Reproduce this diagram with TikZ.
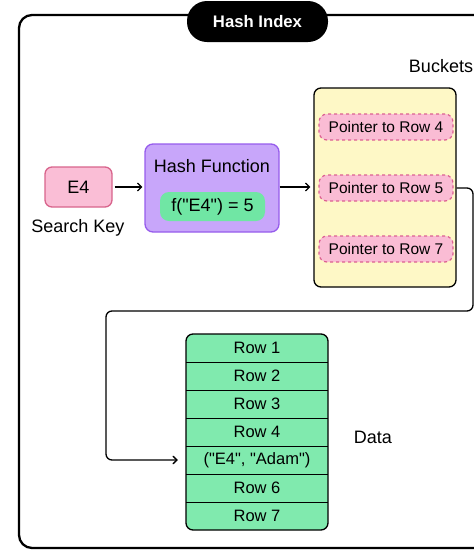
\documentclass[tikz,border=0pt]{standalone}
\usepackage{fontspec}
\setmainfont{Liberation Sans}
\usepackage{tikz}
\usetikzlibrary{arrows}

\definecolor{keypink}{RGB}{250,190,214}
\definecolor{keyedge}{RGB}{216,100,140}
\definecolor{hashpurple}{RGB}{200,166,250}
\definecolor{hashedge}{RGB}{150,92,236}
\definecolor{pillgreen}{RGB}{112,230,164}
\definecolor{bucketyellow}{RGB}{254,248,198}
\definecolor{ptrpink}{RGB}{250,188,212}
\definecolor{ptredge}{RGB}{220,96,146}
\definecolor{datagreen}{RGB}{128,234,174}
\newcommand{\dq}{\textquotedbl}

\begin{document}
\begin{tikzpicture}[x=1pt, y=-1pt,
        font=\fontsize{16.5}{19}\selectfont,
        big/.style = {font=\fontsize{18}{21}\selectfont},
        box/.style = {draw, rounded corners=7pt, line width=1.3pt, inner sep=0pt},
        ptr/.style = {draw=ptredge, fill=ptrpink, dashed, line width=1.2pt, rounded corners=8pt,
                      minimum width=134pt, minimum height=26pt, inner sep=0pt, font=\fontsize{15.5}{18}\selectfont},
        row/.style = {minimum width=142pt, minimum height=28pt, inner sep=0pt},
        link/.style = {-angle 90, line width=1.3pt}]
        \clip (0,0) rectangle (474,550);
        % frame and title
        \draw[line width=2.3pt, rounded corners=13pt] (19,15) rectangle (520,548);
        \node[fill=black, text=white, rounded corners=20pt, minimum width=141pt, minimum height=41pt,
              font=\fontsize{16.7}{19}\selectfont\bfseries] (title) at (257.5,21.5) {Hash Index};

        % search key and hash function
        \node[box, big, draw=keyedge, fill=keypink, minimum width=67pt, minimum height=40pt] (key) at (78.5,187) {E4};
        \node[big] (keylbl) at (78,228) {Search Key};
        \node[box, draw=hashedge, fill=hashpurple, rounded corners=8pt, minimum width=134pt, minimum height=88pt] (hash) at (212,188) {};
        \node[big] (hashlbl) at (212,166) {Hash Function};
        \node[big, fill=pillgreen, rounded corners=9pt, minimum width=105pt, minimum height=29pt, inner sep=0pt] (fn) at (212.5,206.5) {f(\dq E4\dq) = 5};

        % buckets
        \node[big] (bucketlbl) at (441,66) {Buckets};
        \node[box, fill=bucketyellow, minimum width=142pt, minimum height=199pt] (bucket) at (385,187.5) {};
        \node[ptr] (p4) at (386,127) {Pointer to Row 4};
        \node[ptr] (p5) at (386,188) {Pointer to Row 5};
        \node[ptr] (p7) at (386,249) {Pointer to Row 7};

        \path[link]
        ([xshift=2pt]key.east) edge ([xshift=-2pt]key.east -| hash.west);
        \path[link]
        ([yshift=1pt]hash.east) edge ([xshift=-3pt, yshift=1pt]hash.east -| bucket.west);

        % data rows
        \draw[line width=1.3pt, rounded corners=7pt, fill=datagreen] (186,334) rectangle (328,530);
        \foreach \i/\t in {1/Row 1, 2/Row 2, 3/Row 3, 4/Row 4, 5/{(\dq E4\dq, \dq Adam\dq)}, 6/Row 6, 7/Row 7}
            \node[row] (r\i) at (257, 334+28*\i-14) {\t};
        \foreach \i in {1,...,6}
            \draw[line width=1.2pt] (r\i.south west) -- (r\i.south east);
        \node[big] (datalbl) at (373,437) {Data};

        % pointer to the row
        \coordinate (rt) at (473,311);
        \coordinate (lt) at (106,311);
        \draw[link, rounded corners=6pt, shorten >=8pt]
        (bucket.east |- p5) -| (rt) -- (lt) |- (r5.west);
    \end{tikzpicture}
\end{document}
